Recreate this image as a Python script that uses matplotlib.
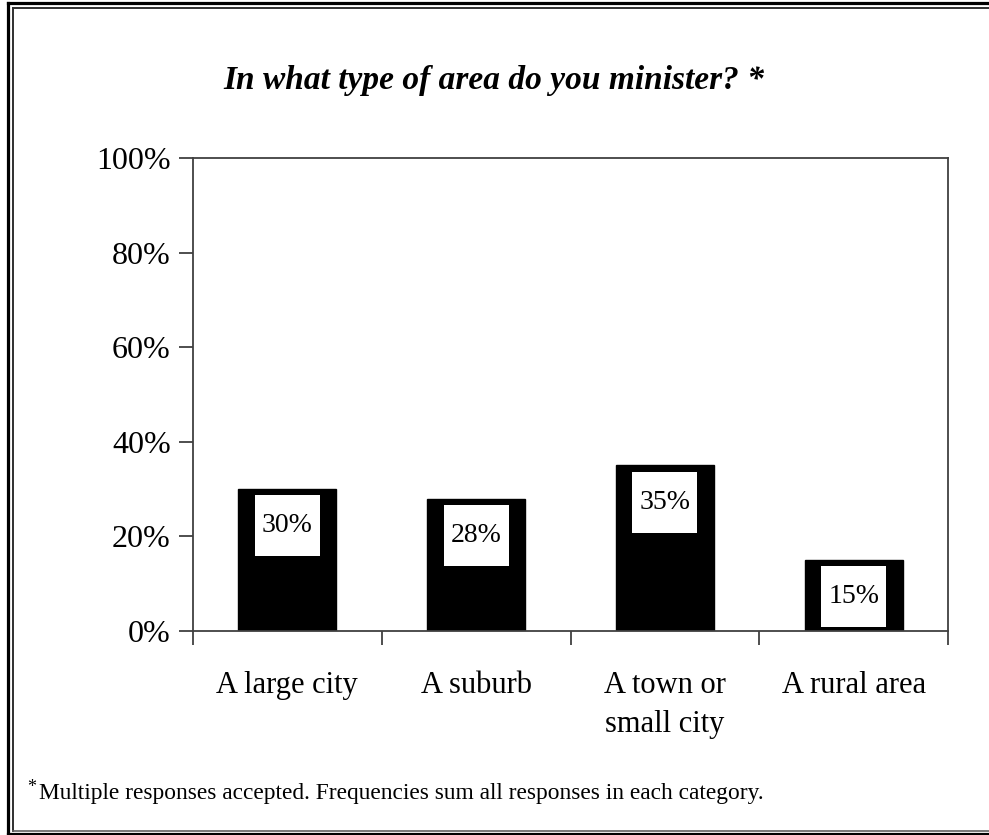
import matplotlib.pyplot as plt
from matplotlib.patches import Rectangle
from matplotlib.lines import Line2D

categories = ["A large city", "A suburb", "A town or\nsmall city", "A rural area"]
values = [30, 28, 35, 15]
bar_labels = ["30%", "28%", "35%", "15%"]
yticks = [0, 20, 40, 60, 80, 100]
ytick_labels = ["0%", "20%", "40%", "60%", "80%", "100%"]

title = "In what type of area do you minister? *"
footnote = "Multiple responses accepted. Frequencies sum all responses in each category."

plt.rcParams['font.family'] = ['Liberation Serif', 'DejaVu Serif']

W, H = 989, 835
fig = plt.figure(figsize=(W / 100, H / 100), dpi=100)


def frame_line(xs, ys, lw, col):
    # xs, ys in pixels from top-left
    fig.add_artist(Line2D([v / W for v in xs], [1 - v / H for v in ys],
                          transform=fig.transFigure, color=col, linewidth=lw,
                          solid_capstyle='projecting'))


# double frame (cut off on the right, as in the source picture)
frame_line([7.5, 7.5], [2.5, 833.5], 2.3, 'black')
frame_line([7.5, W + 5], [833.5, 833.5], 2.3, 'black')
frame_line([7.5, W + 5], [2.5, 2.5], 2.3, 'black')
frame_line([13, 13], [8, 830.5], 1.4, '#303030')
frame_line([13, W + 5], [8, 8], 1.4, '#303030')
frame_line([13, W + 5], [830.5, 830.5], 1.2, '#606060')

ax = fig.add_axes([193 / W, 1 - 631 / H, 755 / W, 473 / H])

x = range(len(values))
ax.bar(x, values, width=0.52, color='black', edgecolor='black')

axis_col = '#404040'
for s in ax.spines.values():
    s.set_color(axis_col)
    s.set_linewidth(1.3)

ax.set_xlim(-0.5, len(values) - 0.5)
ax.set_ylim(0, 100)
ax.set_yticks(yticks)
ax.set_yticklabels(ytick_labels, fontsize=23)
ax.tick_params(axis='y', direction='out', length=10, width=1.3, color=axis_col, pad=6)

# x ticks sit on the category boundaries, labels at the centres
ax.set_xticks([i - 0.5 for i in range(len(values) + 1)])
ax.set_xticklabels([])
ax.set_xticks(list(x), minor=True)
ax.set_xticklabels(categories, minor=True, fontsize=22, linespacing=1.45, va='top')
ax.tick_params(axis='x', which='major', direction='out', length=10, width=1.3, color=axis_col)
ax.tick_params(axis='x', which='minor', length=0, pad=29)

# white label boxes inside the top of each bar
box_w = 0.344
box_h = 12.9
for i, v in enumerate(values):
    top = v - 1.3
    ax.add_patch(Rectangle((i - box_w / 2, top - box_h), box_w, box_h,
                           facecolor='white', edgecolor='none', zorder=3))
    ax.text(i, top - box_h / 2, bar_labels[i], ha='center', va='center',
            fontsize=20, zorder=4)

fig.text(494 / W, 1 - 81 / H, title, ha='center', va='center',
         fontsize=24, fontweight='bold', fontstyle='italic')

fig.text(27 / W, 1 - 787 / H, "*", ha='left', va='center', fontsize=13)
fig.text(39 / W, 1 - 793 / H, footnote, ha='left', va='center', fontsize=16.8)

fig.savefig("out.png", dpi=100)
